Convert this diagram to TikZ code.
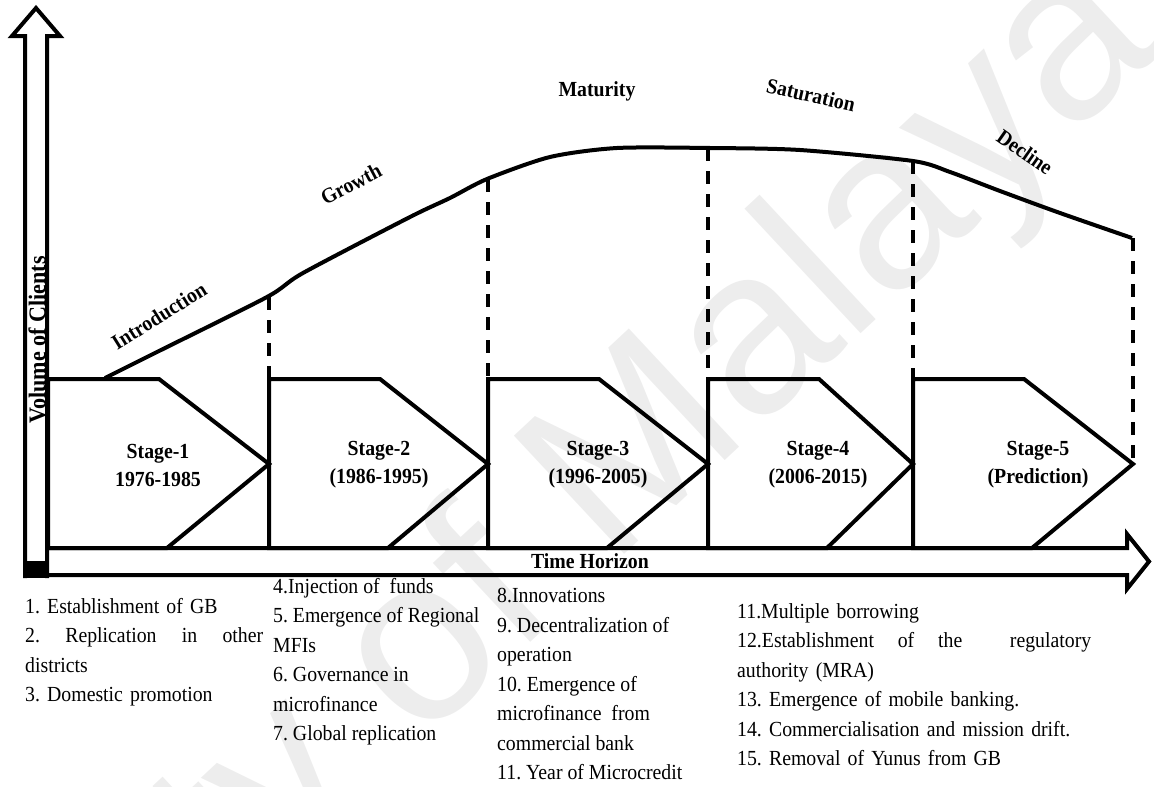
\documentclass[tikz,border=0pt]{standalone}
\usepackage{fontspec}
\setmainfont{Liberation Serif}[FakeStretch=0.92]
\newfontfamily\wmfont{Liberation Sans}
\frenchspacing
\begin{document}
\begin{tikzpicture}[x=1pt,y=-1pt,
  heavy/.style={line width=4pt, line join=miter},
  guide/.style={line width=3.6pt, dash pattern=on 13pt off 10pt},
  phase/.style={font=\bfseries\fontsize{21.5}{24}\selectfont, inner sep=0pt},
  stagelabel/.style={font=\bfseries\fontsize{21.5}{28}\selectfont, align=center, inner sep=0pt},
  listtext/.style={font=\fontsize{21.5}{29.5}\selectfont, anchor=north west, inner sep=0pt, align=left}]

\useasboundingbox (0,0) rectangle (1154,787);

% faint watermark behind the chart
\node[rotate=43, anchor=base east, inner sep=0pt, text=black!7,
      font=\wmfont\fontsize{235}{235}\selectfont] (wm) at (1165,50) {University of Malaya};

% vertical axis: hollow arrow with a solid foot
\draw[heavy] (25,578) -- (25,36) -- (12,36) -- (36,8) -- (60,36) -- (47,36) -- (47,578);
\fill (23,561) rectangle (49,578);
\node[rotate=90, inner sep=0pt, font=\bfseries\fontsize{24}{28}\selectfont] (ylab) at (37,340) {Volume of Clients};

% horizontal axis: hollow arrow
\draw[heavy] (47,548) -- (1127,548) -- (1127,534) -- (1149,561.5) -- (1127,589) -- (1127,575) -- (47,575);
\node[inner sep=0pt, font=\bfseries\fontsize{21.5}{24}\selectfont] (xlab) at (590,561) {Time Horizon};

% stage boxes (pentagon arrows)
\foreach \l/\r in {48/269, 269/488, 488/708, 708/913, 913/1133} {
  \draw[heavy] (\l,379) -- ({\l+111},379) -- (\r,464) -- ({\l+119},548) -- (\l,548) -- cycle;
}
\node[stagelabel] (s1) at (158,465) {Stage-1\\1976-1985};
\node[stagelabel] (s2) at (379,465) {Stage-2\\(1986-1995)};
\node[stagelabel] (s3) at (598,465) {Stage-3\\(1996-2005)};
\node[stagelabel] (s4) at (818,465) {Stage-4\\(2006-2015)};
\node[stagelabel] (s5) at (1038,465) {Stage-5\\(Prediction)};

% life-cycle curve
\draw[line width=4pt, line cap=butt] plot[smooth, tension=0.45] coordinates {
  (105,378) (157,352) (267,297) (303,273) (410,217) (450,198) (487,179)
  (550,157) (617,148) (710,148) (800,150) (913,161) (950,172) (1000,191)
  (1060,213) (1132,238)};

% stage boundaries projected onto the curve
\draw[guide] (269,297) -- (269,379);
\draw[guide] (488,179) -- (488,379);
\draw[guide] (708,148) -- (708,379);
\draw[guide] (913,161) -- (913,379);
\draw[guide] (1133,238) -- (1133,464);

% phase names
\node[phase, rotate=32] (p1) at (159,316) {Introduction};
\node[phase, rotate=28] (p2) at (351,184) {Growth};
\node[phase] (p3) at (597,91) {Maturity};
\node[phase, rotate=-13] (p4) at (811,95) {Saturation};
\node[phase, rotate=-35] (p5) at (1025,152) {Decline};

% events of each stage
\node[listtext, text width=238pt] (e1) at (25,598) {1. Establishment of GB\\
2.\hfill Replication\hfill in\hfill other\\
districts\\
3. Domestic promotion};
\node[listtext] (e2) at (273,578) {4.Injection of\ \ funds\\
5. Emergence of Regional\\
MFIs\\
6. Governance in\\
microfinance\\
7. Global replication};
\node[listtext] (e3) at (497,588) {8.Innovations\\
9. Decentralization of\\
operation\\
10. Emergence of\\
microfinance\ \ from\\
commercial bank\\
11. Year of Microcredit};
\node[listtext, text width=354pt] (e4) at (737,603) {11.Multiple borrowing\\
12.Establishment\hfill of\hfill the\hfill\hfill regulatory\\
authority (MRA)\\
13. Emergence of mobile banking.\\
14. Commercialisation and mission drift.\\
15. Removal of Yunus from GB};
\end{tikzpicture}
\end{document}
